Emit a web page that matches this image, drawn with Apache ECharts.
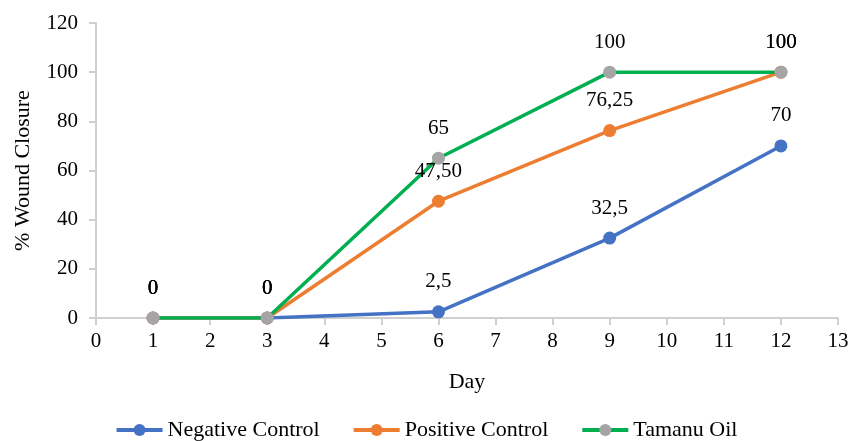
<!DOCTYPE html>
<html><head><meta charset="utf-8">
<script src="https://cdn.jsdelivr.net/npm/echarts@6/dist/echarts.min.js"></script>
<style>html,body{margin:0;padding:0;background:#fff}#c{width:852px;height:441px}</style>
</head><body><div id="c"></div>
<script>
var days = [1, 3, 6, 9, 12];
var negative = [0, 0, 2.5, 32.5, 70];
var positive = [0, 0, 47.5, 76.25, 100];
var tamanu = [0, 0, 65, 100, 100];
var negLabels = ['0', '0', '2,5', '32,5', '70'];
var posLabels = ['0', '0', '47,50', '76,25', '100'];
var tamLabels = ['0', '0', '65', '100', '100'];
var seriesNames = ['Negative Control', 'Positive Control', 'Tamanu Oil'];

var FONT = '"Liberation Serif", "Times New Roman", serif';
function pts(vals) { return days.map(function (d, i) { return [d, vals[i]]; }); }
function mk(name, vals, labels, lineColor, markColor) {
  return {
    name: name, type: 'line', data: pts(vals),
    symbol: 'circle', symbolSize: 13,
    lineStyle: { color: lineColor, width: 3.5 },
    itemStyle: { color: markColor },
    label: {
      show: true, position: 'top', distance: 13,
      fontFamily: FONT, fontSize: 21, color: '#000',
      formatter: function (p) { return labels[p.dataIndex]; }
    },
    emphasis: { disabled: true }, animation: false
  };
}
var chart = echarts.init(document.getElementById('c'));
chart.setOption({
  backgroundColor: '#fff',
  animation: false,
  grid: { left: 96, right: 14, top: 23, bottom: 123 },
  xAxis: {
    type: 'value', min: 0, max: 13, interval: 1,
    name: 'Day', nameLocation: 'middle', nameGap: 53,
    nameTextStyle: { fontFamily: FONT, fontSize: 22, color: '#000' },
    axisLine: { show: true, lineStyle: { color: '#cfcfcf', width: 2 } },
    axisTick: { show: true, length: 7, lineStyle: { color: '#cfcfcf', width: 2 } },
    axisLabel: { fontFamily: FONT, fontSize: 21, color: '#000', margin: 13 },
    splitLine: { show: false }
  },
  yAxis: {
    type: 'value', min: 0, max: 120, interval: 20,
    name: '% Wound Closure', nameLocation: 'middle', nameGap: 62,
    nameTextStyle: { fontFamily: FONT, fontSize: 22, color: '#000' },
    axisLine: { show: true, lineStyle: { color: '#cfcfcf', width: 2 } },
    axisTick: { show: true, length: 7, lineStyle: { color: '#cfcfcf', width: 2 } },
    axisLabel: { fontFamily: FONT, fontSize: 21, color: '#000', margin: 18 },
    splitLine: { show: false }
  },
  legend: {
    bottom: -5, left: 'center', itemWidth: 46, itemHeight: 15, itemGap: 32,
    lineStyle: { width: 4 },
    textStyle: { fontFamily: FONT, fontSize: 22, color: '#000' },
    data: seriesNames
  },
  series: [
    mk(seriesNames[0], negative, negLabels, '#4472C4', '#4472C4'),
    mk(seriesNames[1], positive, posLabels, '#ED7D31', '#ED7D31'),
    mk(seriesNames[2], tamanu, tamLabels, '#00B050', '#A5A5A5')
  ]
});
</script></body></html>
